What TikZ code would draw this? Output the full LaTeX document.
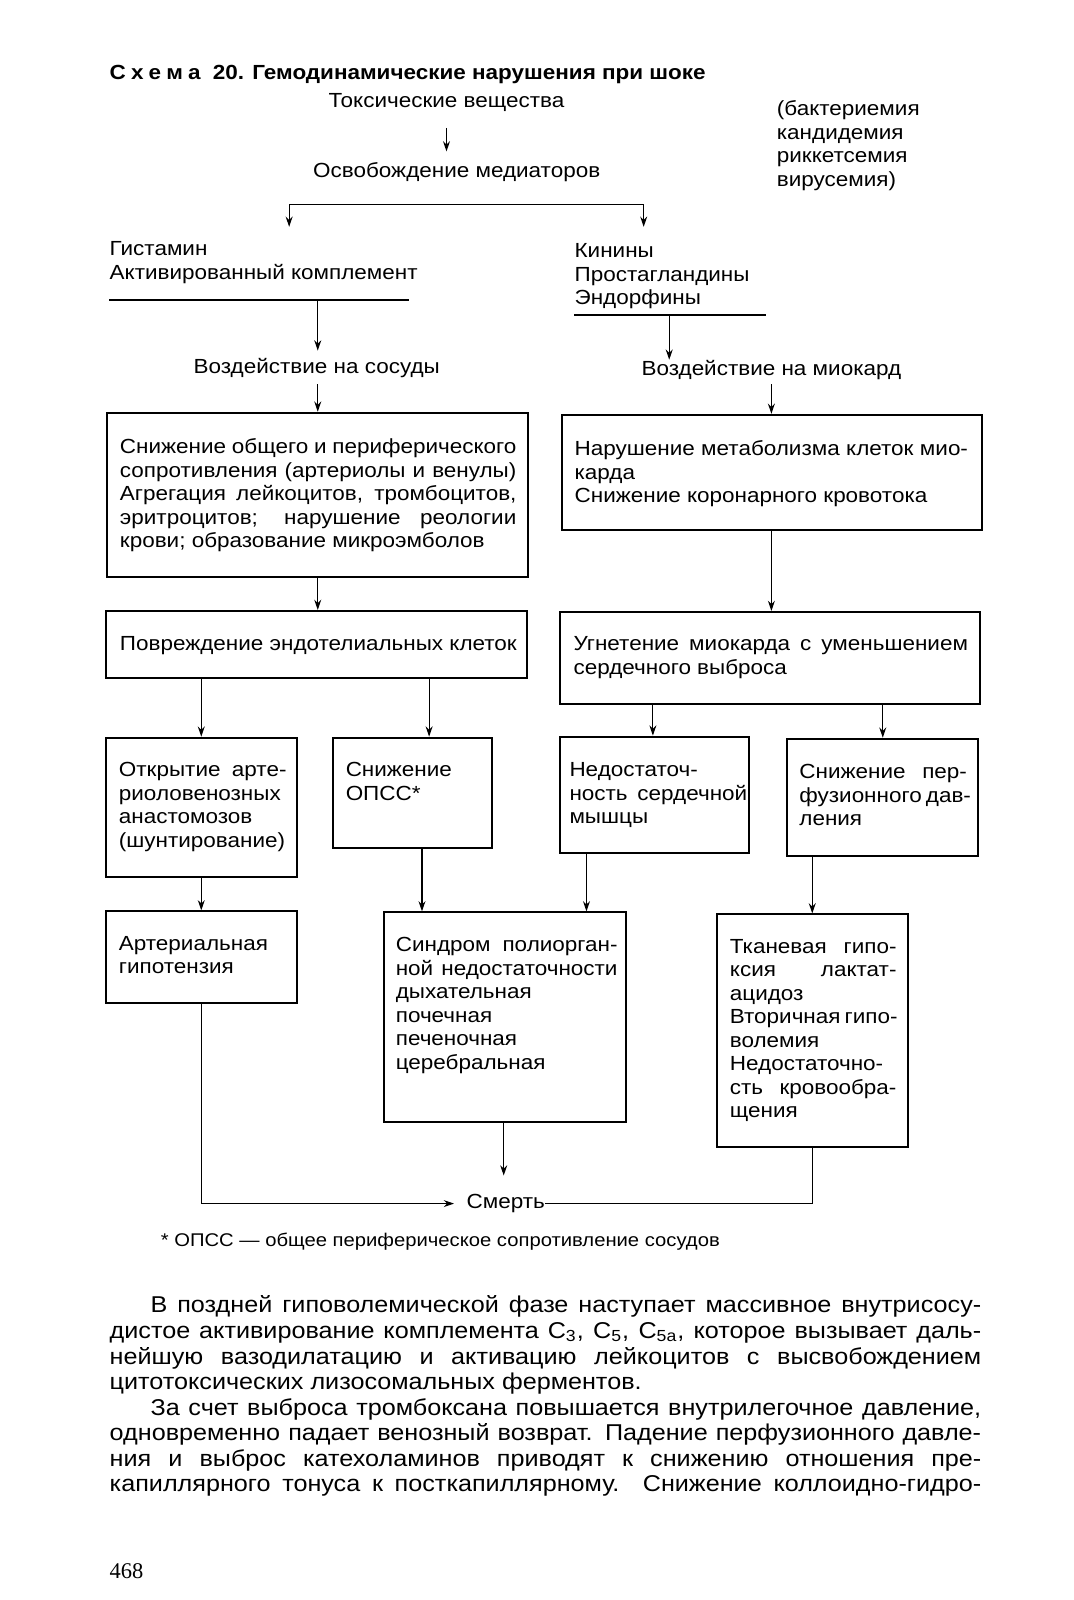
\documentclass[tikz,border=0pt]{standalone}
\usepackage{fontspec}
\setmainfont[FakeStretch=1.1]{Liberation Sans}
\newfontfamily\serifbody{Liberation Serif}
\usetikzlibrary{arrows.meta,fit}
\newcommand\jl[2]{\makebox[#1][s]{#2}}
\begin{document}
\begin{tikzpicture}[x=0.5pt,y=-0.5pt,
  txt/.style={inner sep=0pt, align=left, anchor=north west, font=\fontsize{10}{11.5}\selectfont},
  lbl/.style={inner sep=0pt, font=\fontsize{10}{11.5}\selectfont},
  box/.style={draw, line width=1pt, inner sep=0pt},
  arr/.style={-{Stealth[length=5pt,width=3.4pt]}, line width=0.6pt},
  ln/.style={line width=0.6pt},
  uline/.style={line width=1pt}]
\fill[white] (0,0) rectangle (1051,1566);
\useasboundingbox (0,0) rectangle (1051,1566);

% title
\node[anchor=base west, inner sep=0pt, font=\bfseries\fontsize{10}{12}\selectfont] (title) at (107,78)
  {С\hspace{2.5pt}х\hspace{2.5pt}е\hspace{2.5pt}м\hspace{2.5pt}а\hspace{6pt}20. Гемодинамические нарушения при шоке};

% top
\node[lbl] (tox) at (437,100) {Токсические вещества};
\node[lbl] (med) at (447,168) {Освобождение медиаторов};
\coordinate (xT) at (437,0);
\draw[arr, shorten <=8pt, shorten >=5pt] (tox.south -| xT) -- (med.north -| xT);
\node[txt] (note) at (760,98) {(бактериемия\\кандидемия\\риккетсемия\\вирусемия)};

% branch
\coordinate (bL) at (283,200);
\coordinate (bR) at (630,200);
\draw[ln] (bL) -- (bR);
\node[txt] (hist) at (107,236) {Гистамин\\Активированный комплемент};
\node[txt] (kin) at (562,238) {Кинины\\Простагландины\\Эндорфины};
\draw[arr, shorten >=7pt] (bL) -- (hist.north -| bL);
\draw[arr, shorten >=8pt] (bR) -- (kin.north -| bR);

% underlines
\coordinate (uLa) at (107,294);
\coordinate (uLb) at (400,294);
\coordinate (uL) at (311,294);
\draw[uline] (uLa) -- (uLb);
\coordinate (uRa) at (562,308);
\coordinate (uRb) at (750,308);
\coordinate (uR) at (655,308);
\draw[uline] (uRa) -- (uRb);

\node[lbl] (vs) at (310,360) {Воздействие на сосуды};
\node[lbl] (vm) at (755,362) {Воздействие на миокард};
\draw[arr, shorten >=3.5pt] (uL) -- (vs.north -| uL);
\draw[arr] (uR) -- (vm.north -| uR);

% boxes
\node[box, fit={(105,404) (517,565)}] (A) {};
\node[box, fit={(550,406) (961,519)}] (B) {};
\node[box, fit={(104,598) (516,664)}] (C) {};
\node[box, fit={(548,599) (959,689)}] (D) {};
\node[box, fit={(104,722) (291,858)}] (E) {};
\node[box, fit={(326,722) (482,830)}] (F) {};
\node[box, fit={(548,721) (733,835)}] (G) {};
\node[box, fit={(770,723) (957,838)}] (H) {};
\node[box, fit={(104,892) (291,982)}] (I) {};
\node[box, fit={(376,893) (613,1098)}] (J) {};
\node[box, fit={(702,895) (889,1123)}] (K) {};

% box texts
\node[txt] (At) at (117,429) {\jl{194pt}{Снижение общего и периферического}\\\jl{194pt}{сопротивления (артериолы и венулы)}\\\jl{194pt}{Агрегация лейкоцитов, тромбоцитов,}\\\jl{194pt}{эритроцитов; нарушение реологии}\\крови; образование микроэмболов};
\node[txt] (Bt) at (562,431) {\jl{192.5pt}{Нарушение метаболизма клеток мио-}\\карда\\Снижение коронарного кровотока};
\node[txt] (Ct) at (117,623) {Повреждение эндотелиальных клеток};
\node[txt] (Dt) at (561,623) {\jl{193pt}{Угнетение миокарда с уменьшением}\\сердечного выброса};
\node[txt] (Et) at (116,746) {\jl{82pt}{Открытие арте-}\\\jl{82pt}{риоловенозных}\\анастомозов\\(шунтирование)};
\node[txt] (Ft) at (338,746) {Снижение\\ОПСС*};
\node[txt] (Gt) at (557,746) {Недостаточ-\\\jl{87pt}{ность сердечной}\\мышцы};
\node[txt] (Ht) at (782,748) {\jl{82pt}{Снижение пер-}\\\jl{82pt}{фузионного дав-}\\ления};
\node[txt] (It) at (116,916) {Артериальная\\гипотензия};
\node[txt] (Jt) at (387,917) {\jl{108.5pt}{Синдром полиорган-}\\\jl{108.5pt}{ной недостаточности}\\дыхательная\\почечная\\печеночная\\церебральная};
\node[txt] (Kt) at (714,919) {\jl{81.5pt}{Тканевая гипо-}\\\jl{81.5pt}{ксия лактат-}\\ацидоз\\\jl{81.5pt}{Вторичная гипо-}\\волемия\\Недостаточно-\\\jl{81.5pt}{сть кровообра-}\\щения};

% x positions of connectors
\coordinate (xA) at (311,0);
\coordinate (xB) at (755,0);
\coordinate (xE) at (197,0);
\coordinate (xF) at (420,0);
\coordinate (xG) at (639,0);
\coordinate (xH) at (864,0);
\coordinate (xF2) at (413,0);
\coordinate (xG2) at (574,0);
\coordinate (xK) at (795,0);
\coordinate (xJ) at (493,0);

\draw[arr, shorten <=3pt] (vs.south -| xA) -- (A.north -| xA);
\draw[arr, shorten <=2pt] (vm.south -| xB) -- (B.north -| xB);
\draw[arr] (A.south -| xA) -- (C.north -| xA);
\draw[arr] (B.south -| xB) -- (D.north -| xB);
\draw[arr] (C.south -| xE) -- (E.north -| xE);
\draw[arr] (C.south -| xF) -- (F.north -| xF);
\draw[arr] (D.south -| xG) -- (G.north -| xG);
\draw[arr] (D.south -| xH) -- (H.north -| xH);
\draw[arr] (E.south -| xE) -- (I.north -| xE);
\draw[arr] (F.south -| xF2) -- (J.north -| xF2);
\draw[arr] (G.south -| xG2) -- (J.north -| xG2);
\draw[arr] (H.south -| xK) -- (K.north -| xK);

% death
\node[lbl, inner xsep=6pt, inner ysep=9pt] (death) at (495,1178) {Смерть};
\draw[arr] (J.south -| xJ) -- (death.north -| xJ);
\draw[arr] (I.south -| xE) |- (death.west);
\draw[ln] (K.south -| xK) |- ([xshift=-6pt]death.east);

% footnote
\node[anchor=west, inner sep=0pt, font=\fontsize{9}{11}\selectfont] (fn) at (157,1215)
  {* ОПСС — общее периферическое сопротивление сосудов};

% body text
\node[txt, font=\fontsize{11.2}{12.5}\selectfont] (body) at (107,1268)
  {\hspace*{20pt}\jl{406.5pt}{В поздней гиповолемической фазе наступает массивное внутрисосу-}\\
   \jl{426.5pt}{дистое активирование комплемента C\textsubscript{3}, C\textsubscript{5}, C\textsubscript{5a}, которое вызывает даль-}\\
   \jl{426.5pt}{нейшую вазодилатацию и активацию лейкоцитов с высвобождением}\\
   цитотоксических лизосомальных ферментов.\\
   \hspace*{20pt}\jl{406.5pt}{За счет выброса тромбоксана повышается внутрилегочное давление,}\\
   \jl{426.5pt}{одновременно падает венозный возврат. Падение перфузионного давле-}\\
   \jl{426.5pt}{ния и выброс катехоламинов приводят к снижению отношения пре-}\\
   \jl{426.5pt}{капиллярного тонуса к посткапиллярному. Снижение коллоидно-гидро-}};

\node[anchor=west, inner sep=0pt, font=\serifbody\fontsize{11}{12}\selectfont] (pg) at (107,1538) {468};
\end{tikzpicture}
\end{document}
